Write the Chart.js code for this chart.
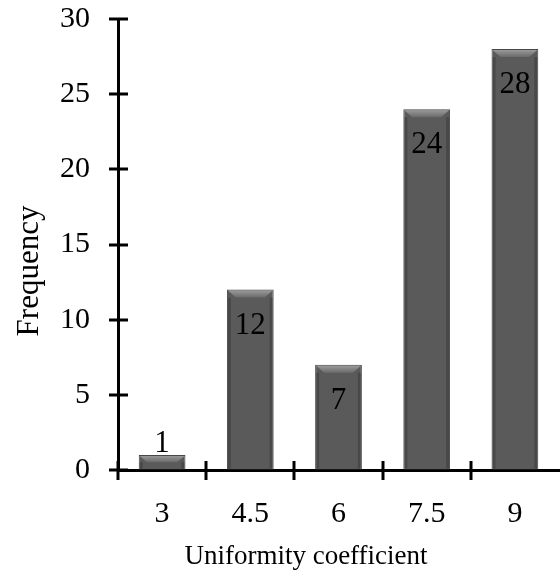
<!DOCTYPE html>
<html>
<head>
<meta charset="utf-8">
<script src="https://cdn.jsdelivr.net/npm/chart.js@4.4.1/dist/chart.umd.min.js"></script>
<style>
  body { margin: 0; background: #fff; }
</style>
</head>
<body>
<canvas id="chart" width="560" height="576"></canvas>
<script>
const categories = ["3", "4.5", "6", "7.5", "9"];
const frequency = [1, 12, 7, 24, 28];
const yTitle = "Frequency";
const xTitle = "Uniformity coefficient";

const serif = "'Liberation Serif', 'Times New Roman', serif";

// crossing tick marks, drawn over the axis lines
const crossTicks = {
  id: "crossTicks",
  afterDraw(chart) {
    const ctx = chart.ctx;
    const x = chart.scales.x;
    const y = chart.scales.y;
    const area = chart.chartArea;
    ctx.save();
    ctx.strokeStyle = "#000";
    ctx.lineWidth = 3;
    ctx.beginPath();
    y.ticks.forEach((t, i) => {
      const py = Math.round(y.getPixelForTick(i));
      ctx.moveTo(area.left - 9, py);
      ctx.lineTo(area.left + 10, py);
    });
    for (let i = 0; i < categories.length; i++) {
      const px = Math.round(x.getPixelForValue(i) - (x.getPixelForValue(1) - x.getPixelForValue(0)) / 2);
      ctx.moveTo(px, area.bottom - 9);
      ctx.lineTo(px, area.bottom + 10);
    }
    ctx.stroke();
    ctx.restore();
  }
};

// bevel on the bar tops and value labels
const barDecor = {
  id: "barDecor",
  afterDatasetsDraw(chart) {
    const ctx = chart.ctx;
    const meta = chart.getDatasetMeta(0);
    ctx.save();
    meta.data.forEach((bar, i) => {
      const left = bar.x - bar.width / 2;
      const right = bar.x + bar.width / 2;
      const top = bar.y;
      const h = bar.base - bar.y;
      const bev = Math.min(8, h / 2);
      const g = ctx.createLinearGradient(0, top, 0, top + bev);
      g.addColorStop(0, "#a0a0a0");
      g.addColorStop(1, "#6a6a6a");
      ctx.fillStyle = g;
      ctx.beginPath();
      ctx.moveTo(left + 1, top + 1);
      ctx.lineTo(right - 1, top + 1);
      ctx.lineTo(right - 1 - bev, top + bev);
      ctx.lineTo(left + 1 + bev, top + bev);
      ctx.closePath();
      ctx.fill();
      // side shading
      ctx.fillStyle = "rgba(40,40,40,0.35)";
      ctx.fillRect(left + 1, top + bev, 3, h - bev - 1);
      ctx.fillRect(right - 4, top + bev, 3, h - bev - 1);

      ctx.fillStyle = "#000";
      ctx.font = "31px " + serif;
      ctx.textAlign = "center";
      ctx.textBaseline = "alphabetic";
      const v = frequency[i];
      if (h < 40) {
        ctx.fillText(String(v), bar.x, top - 3);
      } else {
        ctx.fillText(String(v), bar.x, top + 44);
      }
    });
    ctx.restore();
  }
};

// axis titles, placed like the original (not centred on the plot area)
const axisTitles = {
  id: "axisTitles",
  afterDraw(chart) {
    const ctx = chart.ctx;
    ctx.save();
    ctx.fillStyle = "#000";
    ctx.textAlign = "center";
    ctx.textBaseline = "alphabetic";
    ctx.font = "31px " + serif;
    ctx.translate(38, 271);
    ctx.rotate(-Math.PI / 2);
    ctx.fillText(yTitle, 0, 0);
    ctx.restore();
    ctx.save();
    ctx.fillStyle = "#000";
    ctx.textAlign = "center";
    ctx.textBaseline = "alphabetic";
    ctx.font = "27px " + serif;
    ctx.fillText(xTitle, 306, 564);
    ctx.restore();
  }
};

new Chart(document.getElementById("chart"), {
  type: "bar",
  data: {
    labels: categories,
    datasets: [{
      data: frequency,
      backgroundColor: "#5a5a5a",
      borderColor: "#474747",
      borderWidth: 1,
      barPercentage: 0.53,
      categoryPercentage: 1.0
    }]
  },
  options: {
    responsive: false,
    animation: false,
    layout: { padding: { top: 19, right: 1, left: 0, bottom: 0 } },
    plugins: {
      legend: { display: false },
      tooltip: { enabled: false }
    },
    scales: {
      x: {
        z: 1,
        grid: { display: true, drawOnChartArea: false, drawTicks: false, offset: true },
        border: { display: true, color: "#000", width: 3 },
        ticks: { color: "#000", font: { family: serif, size: 30 }, padding: 26 },
        afterFit(scale) {
          scale.height = 106;
          scale.paddingLeft = 0;
          scale.paddingRight = 0;
        }
      },
      y: {
        z: 1,
        min: 0,
        max: 30,
        grid: { display: true, drawOnChartArea: false, drawTicks: false },
        border: { display: true, color: "#000", width: 3 },
        ticks: { stepSize: 5, color: "#000", font: { family: serif, size: 30 }, padding: 28 },
        afterFit(scale) {
          scale.width = 118;
          scale.paddingTop = 0;
          scale.paddingBottom = 0;
        }
      }
    }
  },
  plugins: [barDecor, crossTicks, axisTitles]
});
</script>
</body>
</html>
